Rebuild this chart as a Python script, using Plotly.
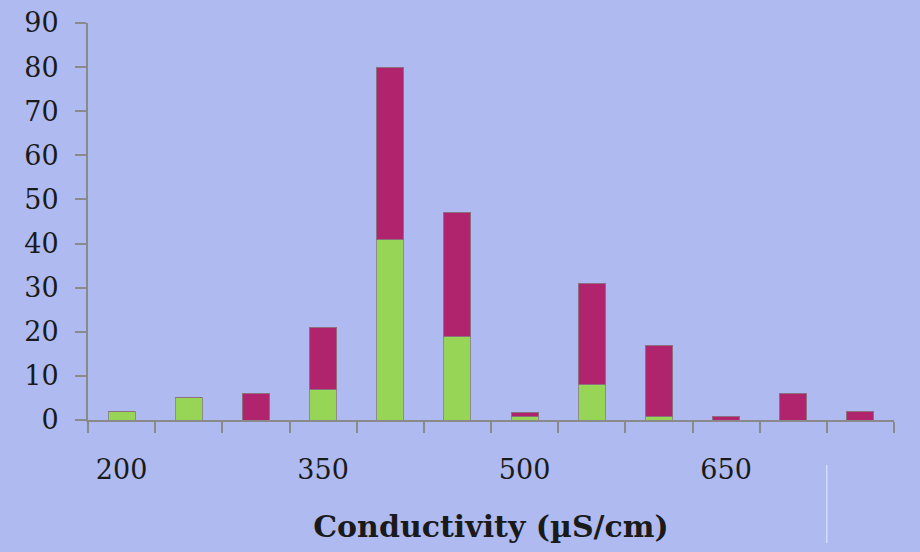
import plotly.graph_objects as go

categories = ["200", "250", "300", "350", "400", "450", "500", "550", "600", "650", "700", "750"]
tick_labels = ["200", "", "", "350", "", "", "500", "", "", "650", "", ""]
green_vals = [2, 5, 0, 7, 41, 19, 0.7, 8, 0.7, 0, 0, 0]
magenta_vals = [0, 0, 6, 14, 39, 28, 1.1, 23, 16.3, 0.7, 6, 2]

BG = "#AFBAF0"
AX = "#8A8A8A"

fig = go.Figure()
fig.add_trace(go.Bar(x=categories, y=green_vals, marker=dict(color="#97D556", line=dict(color="#8C8C8C", width=1)), showlegend=False))
fig.add_trace(go.Bar(x=categories, y=magenta_vals, marker=dict(color="#B0236D", line=dict(color="#8C7080", width=1)), showlegend=False))

fig.update_layout(
    barmode="stack",
    bargap=0.6,
    width=920, height=552,
    margin=dict(l=88, r=26, t=23, b=132, autoexpand=False),
    paper_bgcolor=BG, plot_bgcolor=BG,
    font=dict(family="DejaVu Serif", color="#1a1a1a", size=27),
)
fig.update_xaxes(
    type="category", automargin=False,
    tickmode="array", tickvals=categories, ticktext=tick_labels,
    tickson="boundaries", ticks="outside", ticklen=11, tickcolor=AX, tickwidth=2,
    showline=True, linecolor=AX, linewidth=2, showgrid=False,
    ticklabelstandoff=25,
    tickfont=dict(family="DejaVu Serif", size=27),
    title=dict(text="<b>Conductivity (µS/cm)</b>", font=dict(family="DejaVu Serif", size=30), standoff=32),
    range=[-0.5, 11.5],
)
fig.update_yaxes(
    automargin=False,
    range=[0, 90], tickvals=list(range(0, 91, 10)),
    ticks="outside", ticklen=11, tickcolor=AX, tickwidth=2,
    showline=True, linecolor=AX, linewidth=2, showgrid=False, zeroline=False,
    ticklabelstandoff=11,
    tickfont=dict(family="DejaVu Serif", size=27),
)
fig.add_shape(type="line", xref="x", yref="paper", x0=10.5, x1=10.5, y0=-0.113, y1=-0.31,
              line=dict(color="#E8ECFF", width=1))

fig.write_html("out.html")
